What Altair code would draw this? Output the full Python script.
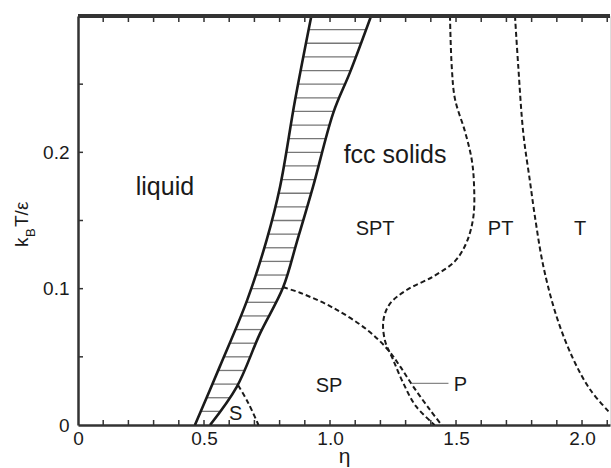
import altair as alt
import pandas as pd
import numpy as np

# ---- values (eta, k_B T / eps) ----
left_eta = [0.464, 0.563, 0.672, 0.749, 0.802, 0.861, 0.927]
left_T = [0.000, 0.043, 0.092, 0.136, 0.175, 0.238, 0.301]

right_eta = [0.524, 0.630, 0.722, 0.814, 0.868, 0.933, 1.013, 1.080, 1.165]
right_T = [0.000, 0.028, 0.067, 0.101, 0.134, 0.175, 0.229, 0.259, 0.301]

s_eta = [0.636, 0.676, 0.716]
s_T = [0.029, 0.016, 0.000]

tb_eta = [0.814, 0.881, 1.012, 1.146, 1.231, 1.278, 1.331, 1.397, 1.443]
tb_T = [0.101, 0.097, 0.086, 0.070, 0.055, 0.043, 0.028, 0.011, 0.000]

sb_eta = [1.476, 1.483, 1.496, 1.536, 1.562, 1.571, 1.569, 1.542, 1.495, 1.410,
          1.304, 1.238, 1.212, 1.218, 1.250, 1.290, 1.340, 1.415]
sb_T = [0.300, 0.263, 0.239, 0.215, 0.195, 0.178, 0.153, 0.134, 0.120, 0.109,
        0.099, 0.089, 0.077, 0.062, 0.048, 0.031, 0.014, 0.000]

pt_eta = [1.734, 1.747, 1.767, 1.794, 1.813, 1.847, 1.900, 1.966, 2.032, 2.110]
pt_T = [0.300, 0.263, 0.214, 0.178, 0.153, 0.116, 0.079, 0.048, 0.026, 0.009]

hatch_levels = [0.01, 0.02, 0.03, 0.04, 0.05, 0.06, 0.07, 0.08, 0.09, 0.10,
                0.11, 0.12, 0.13, 0.14, 0.15, 0.16, 0.17, 0.18, 0.19, 0.20,
                0.21, 0.22, 0.23, 0.24, 0.25, 0.26, 0.27, 0.28, 0.29]

labels = ["liquid", "fcc solids", "SPT", "PT", "T", "SP", "P", "S"]
label_eta = [0.345, 1.258, 1.179, 1.677, 1.992, 0.996, 1.517, 0.626]
label_T = [0.169, 0.192, 0.139, 0.139, 0.139, 0.0245, 0.0252, 0.0037]
label_size = [25, 25, 20, 20, 20, 20, 20, 20]

pointer_eta = [1.324, 1.470]
pointer_T = [0.0306]

x_tick_values = [0.1, 0.2, 0.3, 0.4, 0.5, 0.6, 0.7, 0.8, 0.9, 1.0, 1.1,
                 1.2, 1.3, 1.4, 1.5, 1.6, 1.7, 1.8, 1.9, 2.0, 2.1]
y_tick_values = [0.05, 0.10, 0.15, 0.20, 0.25]
x_label_values = [0, 0.5, 1.0, 1.5, 2.0]
y_label_values = [0, 0.1, 0.2]

# ---- layout ----
W, H = 532, 409
FONT = "Liberation Sans"
INK = "#1a1a1a"

xs = alt.Scale(domain=[0, 2.111], nice=False, zero=False)
ys = alt.Scale(domain=[0, 0.3], nice=False, zero=False)

xaxis = alt.Axis(values=x_label_values, ticks=False, grid=False,
                 labelExpr="datum.value == 0 ? '0' : format(datum.value, '.1f')",
                 labelFont=FONT, labelFontSize=19, labelColor=INK, labelPadding=4,
                 domainColor="#333", domainWidth=2.5,
                 title="η", titleFont=FONT, titleFontSize=21, titleFontWeight="normal",
                 titleColor=INK, titleY=37, titleBaseline="alphabetic",
                 labelFlush=False, labelOverlap=False)
yaxis = alt.Axis(values=y_label_values, ticks=False, grid=False,
                 labelExpr="datum.value == 0 ? '0' : format(datum.value, '.1f')",
                 labelFont=FONT, labelFontSize=19, labelColor=INK, labelPadding=9,
                 domainColor="#333", domainWidth=2.5, title=None,
                 labelFlush=False, labelOverlap=False)


def X(field):
    return alt.X(field, type="quantitative", scale=xs, axis=xaxis)


def Y(field):
    return alt.Y(field, type="quantitative", scale=ys, axis=yaxis)


def curve_df(etas, Ts):
    return pd.DataFrame({"eta": etas, "T": Ts, "i": list(range(len(etas)))})


# hatch rules between the two coexistence boundaries
hatch_df = pd.DataFrame({
    "T": hatch_levels,
    "eta_l": np.interp(hatch_levels, left_T, left_eta),
    "eta_r": np.interp(hatch_levels, right_T, right_eta),
})
hatch = alt.Chart(hatch_df).mark_rule(color="#777", strokeWidth=1.3).encode(
    x=X("eta_l"), x2="eta_r", y=Y("T"))


def solid(etas, Ts):
    return alt.Chart(curve_df(etas, Ts)).mark_line(
        color=INK, strokeWidth=2.6, interpolate="catmull-rom", clip=True
    ).encode(x=X("eta"), y=Y("T"), order="i:Q")


def dashed(etas, Ts):
    return alt.Chart(curve_df(etas, Ts)).mark_line(
        color=INK, strokeWidth=2, strokeDash=[5, 3], interpolate="catmull-rom", clip=True
    ).encode(x=X("eta"), y=Y("T"), order="i:Q")


pointer = alt.Chart(pd.DataFrame({"eta": [pointer_eta[0]], "eta2": [pointer_eta[1]],
                                  "T": pointer_T})).mark_rule(
    color="#888", strokeWidth=1.2).encode(x=X("eta"), x2="eta2", y=Y("T"))

text_df = pd.DataFrame({"label": labels, "eta": label_eta, "T": label_T, "size": label_size})
texts = alt.Chart(text_df).mark_text(
    font=FONT, color=INK, align="center", baseline="alphabetic"
).encode(x=X("eta"), y=Y("T"), text="label:N", size=alt.Size("size:Q", scale=None))

# inward ticks
xt_df = pd.DataFrame({"v": x_tick_values})
yt_df = pd.DataFrame({"v": y_tick_values})
xt_bottom = alt.Chart(xt_df).mark_rule(color="#333", strokeWidth=1.5).encode(
    x=X("v"), y=alt.value(H), y2=alt.value(H - 5))
xt_top = alt.Chart(xt_df).mark_rule(color="#333", strokeWidth=1.5).encode(
    x=X("v"), y=alt.value(0), y2=alt.value(6))
yt_left = alt.Chart(yt_df).mark_rule(color="#333", strokeWidth=1.5).encode(
    y=Y("v"), x=alt.value(0), x2=alt.value(5))

top_line = alt.Chart(pd.DataFrame({"a": [0]})).mark_rule(
    color="#333", strokeWidth=4).encode(x=alt.value(0), x2=alt.value(W), y=alt.value(0))

# y-axis title  k_B T / epsilon
one = pd.DataFrame({"a": [0]})
yt_k = alt.Chart(one).mark_text(text="k", font=FONT, fontSize=19, color=INK, angle=270,
                                align="left", baseline="alphabetic").encode(
    x=alt.value(-50), y=alt.value(231))
yt_B = alt.Chart(one).mark_text(text="B", font=FONT, fontSize=13, color=INK, angle=270,
                                align="left", baseline="alphabetic").encode(
    x=alt.value(-43), y=alt.value(221))
yt_rest = alt.Chart(one).mark_text(text="T/ε", font=FONT, fontSize=19, color=INK, angle=270,
                                   align="left", baseline="alphabetic").encode(
    x=alt.value(-50), y=alt.value(211))

chart = alt.layer(
    hatch,
    solid(left_eta, left_T),
    solid(right_eta, right_T),
    dashed(s_eta, s_T),
    dashed(tb_eta, tb_T),
    dashed(sb_eta, sb_T),
    dashed(pt_eta, pt_T),
    pointer,
    texts,
    xt_bottom, xt_top, yt_left,
    top_line,
    yt_k, yt_B, yt_rest,
).properties(
    width=W, height=H,
    autosize=alt.AutoSizeParams(type="none"),
    padding={"left": 78, "right": 1, "top": 16, "bottom": 43},
).configure_view(stroke=None).configure(background="white")

chart.save("out.html", embed_options={"renderer": "svg", "actions": False})
